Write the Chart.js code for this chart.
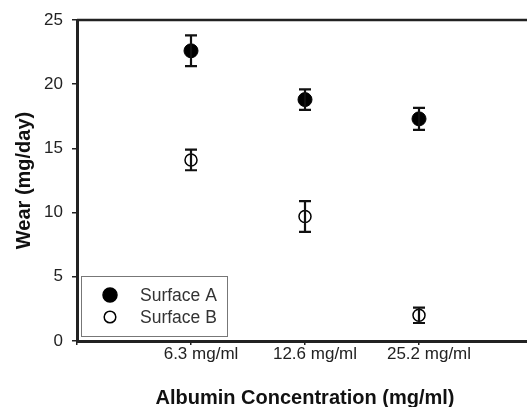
<!DOCTYPE html>
<html>
<head>
<meta charset="utf-8">
<script src="https://cdn.jsdelivr.net/npm/chart.js@4"></script>
<style>
  html, body { margin: 0; padding: 0; background: #fff; overflow: hidden; }
  #wrap { width: 545px; height: 407px; }
</style>
</head>
<body>
<div id="wrap"><canvas id="myChart" width="545" height="407"></canvas></div>
<script>
var categories = ["6.3 mg/ml", "12.6 mg/ml", "25.2 mg/ml"];
var surfaceA = [22.6, 18.8, 17.3];
var surfaceAErr = [1.2, 0.8, 0.85];
var surfaceB = [14.1, 9.7, 2.0];
var surfaceBErr = [0.8, 1.2, 0.6];
var yTicks = [0, 5, 10, 15, 20, 25];

var FONT = '"Liberation Sans", Arial, sans-serif';

function toPoints(vals, errs) {
    return vals.map(function (v, i) { return { x: i + 1, y: v, err: errs[i] }; });
}

var errorBars = {
    id: 'errorBars',
    afterDatasetsDraw: function (chart) {
        var ctx = chart.ctx;
        var xs = chart.scales.x, ys = chart.scales.y;
        ctx.save();
        ctx.strokeStyle = '#111';
        ctx.lineWidth = 2.2;
        chart.data.datasets.forEach(function (ds) {
            ds.data.forEach(function (p) {
                var px = xs.getPixelForValue(p.x);
                var top = ys.getPixelForValue(p.y + p.err);
                var bot = ys.getPixelForValue(p.y - p.err);
                ctx.beginPath();
                ctx.moveTo(px, top); ctx.lineTo(px, bot);
                ctx.moveTo(px - 6, top); ctx.lineTo(px + 6, top);
                ctx.moveTo(px - 6, bot); ctx.lineTo(px + 6, bot);
                ctx.stroke();
            });
        });
        ctx.restore();
    },
    afterDraw: function (chart) {
        var ctx = chart.ctx;
        var a = chart.chartArea;
        ctx.save();
        // top frame line
        ctx.strokeStyle = '#222';
        ctx.lineWidth = 2.5;
        ctx.beginPath();
        ctx.moveTo(a.left, a.top); ctx.lineTo(a.right, a.top);
        ctx.moveTo(a.right, a.top); ctx.lineTo(a.right, a.bottom);
        ctx.stroke();
        // legend box
        var lx = a.left + 4, ly = a.bottom - 65, lw = 146, lh = 60;
        ctx.fillStyle = '#fff';
        ctx.fillRect(lx, ly, lw, lh);
        ctx.strokeStyle = '#777';
        ctx.lineWidth = 1;
        ctx.strokeRect(lx + 0.5, ly + 0.5, lw, lh);
        ctx.font = '17.5px ' + FONT;
        ctx.textBaseline = 'middle';
        chart.data.datasets.forEach(function (ds, i) {
            var cy = ly + 19 + i * 22;
            ctx.beginPath();
            ctx.arc(lx + 29, cy, i === 0 ? 7 : 5.8, 0, Math.PI * 2);
            ctx.fillStyle = ds.pointBackgroundColor;
            ctx.fill();
            ctx.lineWidth = 1.5;
            ctx.strokeStyle = '#000';
            ctx.stroke();
            ctx.fillStyle = '#333';
            ctx.fillText(ds.label, lx + 59, cy + 1);
        });
        ctx.restore();
    }
};

var ctx = document.getElementById("myChart").getContext('2d');
var myChart = new Chart(ctx, {
    type: 'scatter',
    data: {
        datasets: [{
            label: 'Surface A',
            data: toPoints(surfaceA, surfaceAErr),
            pointRadius: 7,
            pointBackgroundColor: '#000',
            pointBorderColor: '#000',
            pointBorderWidth: 1
        }, {
            label: 'Surface B',
            data: toPoints(surfaceB, surfaceBErr),
            pointRadius: 6,
            pointBackgroundColor: '#fff',
            pointBorderColor: '#000',
            pointBorderWidth: 1.5
        }]
    },
    plugins: [errorBars],
    options: {
        responsive: false,
        animation: false,
        layout: { padding: { top: 20, right: 12, left: 0, bottom: 0 } },
        plugins: { legend: { display: false }, tooltip: { enabled: false } },
        scales: {
            x: {
                type: 'linear',
                min: 0, max: 4,
                afterFit: function (s) { s.height = 66; },
                ticks: {
                    stepSize: 1,
                    autoSkip: false,
                    maxRotation: 0,
                    padding: -1,
                    labelOffset: 10,
                    color: '#222',
                    font: { family: FONT, size: 17 },
                    callback: function (v) { return categories[v - 1] || ''; }
                },
                grid: { drawOnChartArea: false, tickLength: 4, color: '#222', lineWidth: 1.5 },
                border: { color: '#222', width: 3 },
                title: {
                    display: true,
                    text: 'Albumin Concentration (mg/ml)',
                    color: '#111',
                    padding: { top: 4, bottom: -3 },
                    font: { family: FONT, size: 20, weight: 'bold' }
                }
            },
            y: {
                min: 0, max: 25,
                afterFit: function (s) { s.width = 77; },
                afterBuildTicks: function (s) { s.ticks = yTicks.map(function (v) { return { value: v }; }); },
                ticks: {
                    padding: 9,
                    color: '#222',
                    font: { family: FONT, size: 17 }
                },
                grid: { drawOnChartArea: false, tickLength: 5, color: '#222', lineWidth: 1.5 },
                border: { color: '#222', width: 3 },
                title: {
                    display: true,
                    text: 'Wear (mg/day)',
                    color: '#111',
                    padding: { bottom: 0, top: 12 },
                    font: { family: FONT, size: 20, weight: 'bold' }
                }
            }
        }
    }
});
</script>
</body>
</html>
